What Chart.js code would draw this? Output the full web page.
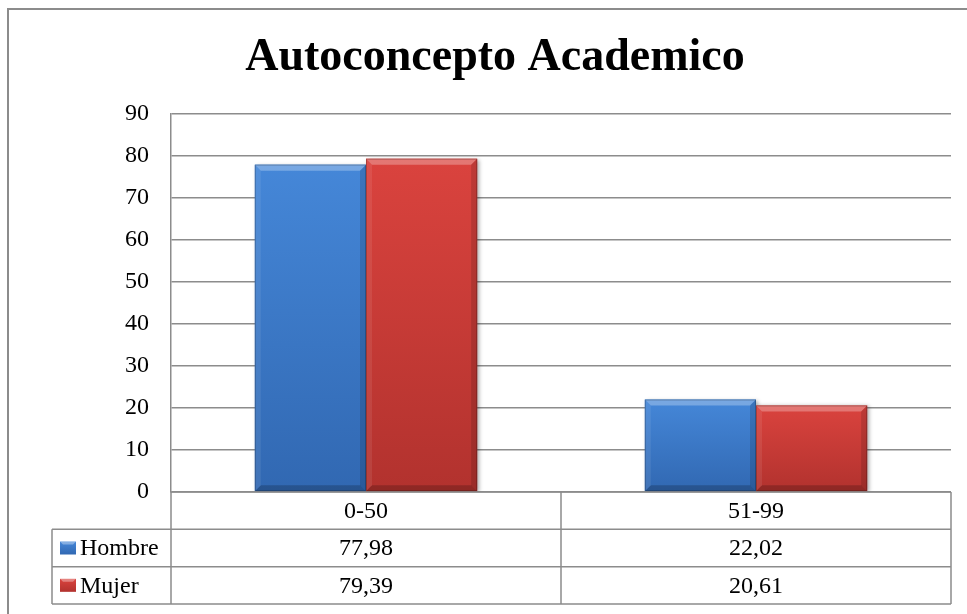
<!DOCTYPE html>
<html>
<head>
<meta charset="utf-8">
<script src="https://cdn.jsdelivr.net/npm/chart.js@4"></script>
<style>
html,body{margin:0;padding:0;background:#fff;}
#wrap{width:967px;height:614px;position:relative;}
</style>
</head>
<body>
<div id="wrap"><canvas id="c" width="967" height="614"></canvas></div>
<script>
const titleText = 'Autoconcepto Academico';
const categories = ['0-50', '51-99'];
const seriesNames = ['Hombre', 'Mujer'];
const hombre = [77.98, 22.02];
const mujer = [79.39, 20.61];
const yMax = 90;
const yStep = 10;

const FONT = "'Liberation Serif', 'Times New Roman', serif";
const palette = [
  {base: '#3a78c6', top: '#4587d8', bottom: '#3168b2'},
  {base: '#c93a35', top: '#da433e', bottom: '#b2322e'}
];

function fmt(v){ return v.toFixed(2).replace('.', ','); }

const bevelPlugin = {
  id: 'bevel',
  beforeDatasetsDraw(chart){
    const ctx = chart.ctx;
    ctx.save();
    ctx.shadowColor = 'rgba(0,0,0,0.35)';
    ctx.shadowBlur = 4;
    ctx.shadowOffsetX = 2;
    ctx.shadowOffsetY = 1;
  },
  afterDatasetsDraw(chart){
    const ctx = chart.ctx;
    ctx.restore();
    chart.data.datasets.forEach((ds, di) => {
      const meta = chart.getDatasetMeta(di);
      const pal = palette[di];
      meta.data.forEach(bar => {
        const L = bar.x - bar.width/2, R = bar.x + bar.width/2;
        const T = Math.min(bar.y, bar.base), B = Math.max(bar.y, bar.base);
        const g = ctx.createLinearGradient(0, T, 0, B);
        g.addColorStop(0, pal.top);
        g.addColorStop(1, pal.bottom);
        ctx.save();
        ctx.fillStyle = g;
        ctx.fillRect(L, T, R-L, B-T);
        const b = 6;
        const poly = (pts, col) => {
          ctx.beginPath();
          ctx.moveTo(pts[0][0], pts[0][1]);
          for (let i=1;i<pts.length;i++) ctx.lineTo(pts[i][0], pts[i][1]);
          ctx.closePath();
          ctx.fillStyle = col;
          ctx.fill();
        };
        poly([[L,T],[R,T],[R-b,T+b],[L+b,T+b]], 'rgba(255,255,255,0.28)');
        poly([[L,T],[L+b,T+b],[L+b,B-b],[L,B]], 'rgba(255,255,255,0.08)');
        poly([[R,T],[R,B],[R-b,B-b],[R-b,T+b]], 'rgba(0,0,0,0.13)');
        poly([[L,B],[L+b,B-b],[R-b,B-b],[R,B]], 'rgba(0,0,0,0.20)');
        ctx.strokeStyle = 'rgba(0,0,0,0.22)';
        ctx.lineWidth = 1;
        ctx.strokeRect(L+0.5, T+0.5, R-L-1, B-T-1);
        ctx.restore();
      });
    });
  }
};

const tablePlugin = {
  id: 'dataTable',
  afterDraw(chart){
    const ctx = chart.ctx;
    const area = chart.chartArea;
    const xs = chart.scales.x;
    const top = area.bottom;
    const tableBottom = 604;
    const rowH = (tableBottom - top) / 3;
    const legendLeft = 52;
    const n = categories.length;
    const centers = categories.map((c, i) => xs.getPixelForTick(i));
    const bounds = [area.left];
    for (let i=0;i<n-1;i++) bounds.push((centers[i]+centers[i+1])/2);
    bounds.push(area.right);

    ctx.save();
    ctx.strokeStyle = '#8c8c8c';
    ctx.lineWidth = 1.5;
    ctx.beginPath();
    ctx.moveTo(area.left, top); ctx.lineTo(area.right, top);
    for (let r=1;r<=3;r++){
      const y = top + rowH*r;
      ctx.moveTo(legendLeft, y); ctx.lineTo(area.right, y);
    }
    bounds.forEach(x => { ctx.moveTo(x, top); ctx.lineTo(x, tableBottom); });
    ctx.moveTo(legendLeft, top + rowH); ctx.lineTo(legendLeft, tableBottom);
    ctx.stroke();

    ctx.fillStyle = '#000';
    ctx.font = '24px ' + FONT;
    ctx.textAlign = 'center';
    ctx.textBaseline = 'middle';
    categories.forEach((c, i) => ctx.fillText(c, centers[i], top + rowH/2 + 1));
    chart.data.datasets.forEach((ds, di) => {
      const yc = top + rowH*(di+1) + rowH/2 + 1;
      ds.data.forEach((v, i) => {
        ctx.textAlign = 'center';
        ctx.fillText(fmt(v), centers[i], yc);
      });
      const pal = palette[di];
      const kx = 60, kw = 16, kh = 13, ky = yc - 1 - kh/2;
      const g = ctx.createLinearGradient(0, ky, 0, ky+kh);
      g.addColorStop(0, pal.top); g.addColorStop(1, pal.bottom);
      ctx.fillStyle = g;
      ctx.fillRect(kx, ky, kw, kh);
      ctx.fillStyle = 'rgba(255,255,255,0.35)';
      ctx.beginPath();
      ctx.moveTo(kx, ky); ctx.lineTo(kx+kw, ky); ctx.lineTo(kx+kw-3, ky+3); ctx.lineTo(kx+3, ky+3); ctx.closePath();
      ctx.fill();
      ctx.fillStyle = '#000';
      ctx.textAlign = 'left';
      ctx.fillText(ds.label, 80, yc);
    });

    ctx.strokeStyle = '#8c8c8c';
    ctx.lineWidth = 2;
    ctx.beginPath();
    ctx.moveTo(8, 614); ctx.lineTo(8, 9); ctx.lineTo(967, 9);
    ctx.stroke();
    ctx.restore();
  }
};

new Chart(document.getElementById('c'), {
  type: 'bar',
  data: {
    labels: categories,
    datasets: [
      {label: seriesNames[0], data: hombre, backgroundColor: palette[0].base, borderWidth: 0},
      {label: seriesNames[1], data: mujer, backgroundColor: palette[1].base, borderWidth: 0}
    ]
  },
  options: {
    responsive: false,
    animation: false,
    devicePixelRatio: 1,
    layout: {padding: {left: 23, right: 0, top: 0, bottom: 122}},
    datasets: {bar: {barPercentage: 1.0, categoryPercentage: 0.57}},
    plugins: {
      legend: {display: false},
      tooltip: {enabled: false},
      title: {
        display: true,
        text: titleText,
        color: '#000',
        font: {family: FONT, size: 46, weight: 'bold', lineHeight: 1.2},
        padding: {top: 31, bottom: 28}
      }
    },
    scales: {
      x: {display: false},
      y: {
        min: 0, max: yMax,
        afterFit(scale){ scale.width = 148; },
        ticks: {stepSize: yStep, color: '#000', font: {family: FONT, size: 24}, padding: 22},
        grid: {color: '#8c8c8c', lineWidth: 1.5, drawTicks: false},
        border: {display: true, color: '#8c8c8c', width: 1.5}
      },
      yRight: {
        position: 'right',
        display: true,
        min: 0, max: yMax,
        afterFit(scale){ scale.width = 16; },
        ticks: {display: false},
        grid: {display: false, drawTicks: false},
        border: {display: false}
      }
    }
  },
  plugins: [bevelPlugin, tablePlugin]
});
</script>
</body>
</html>
